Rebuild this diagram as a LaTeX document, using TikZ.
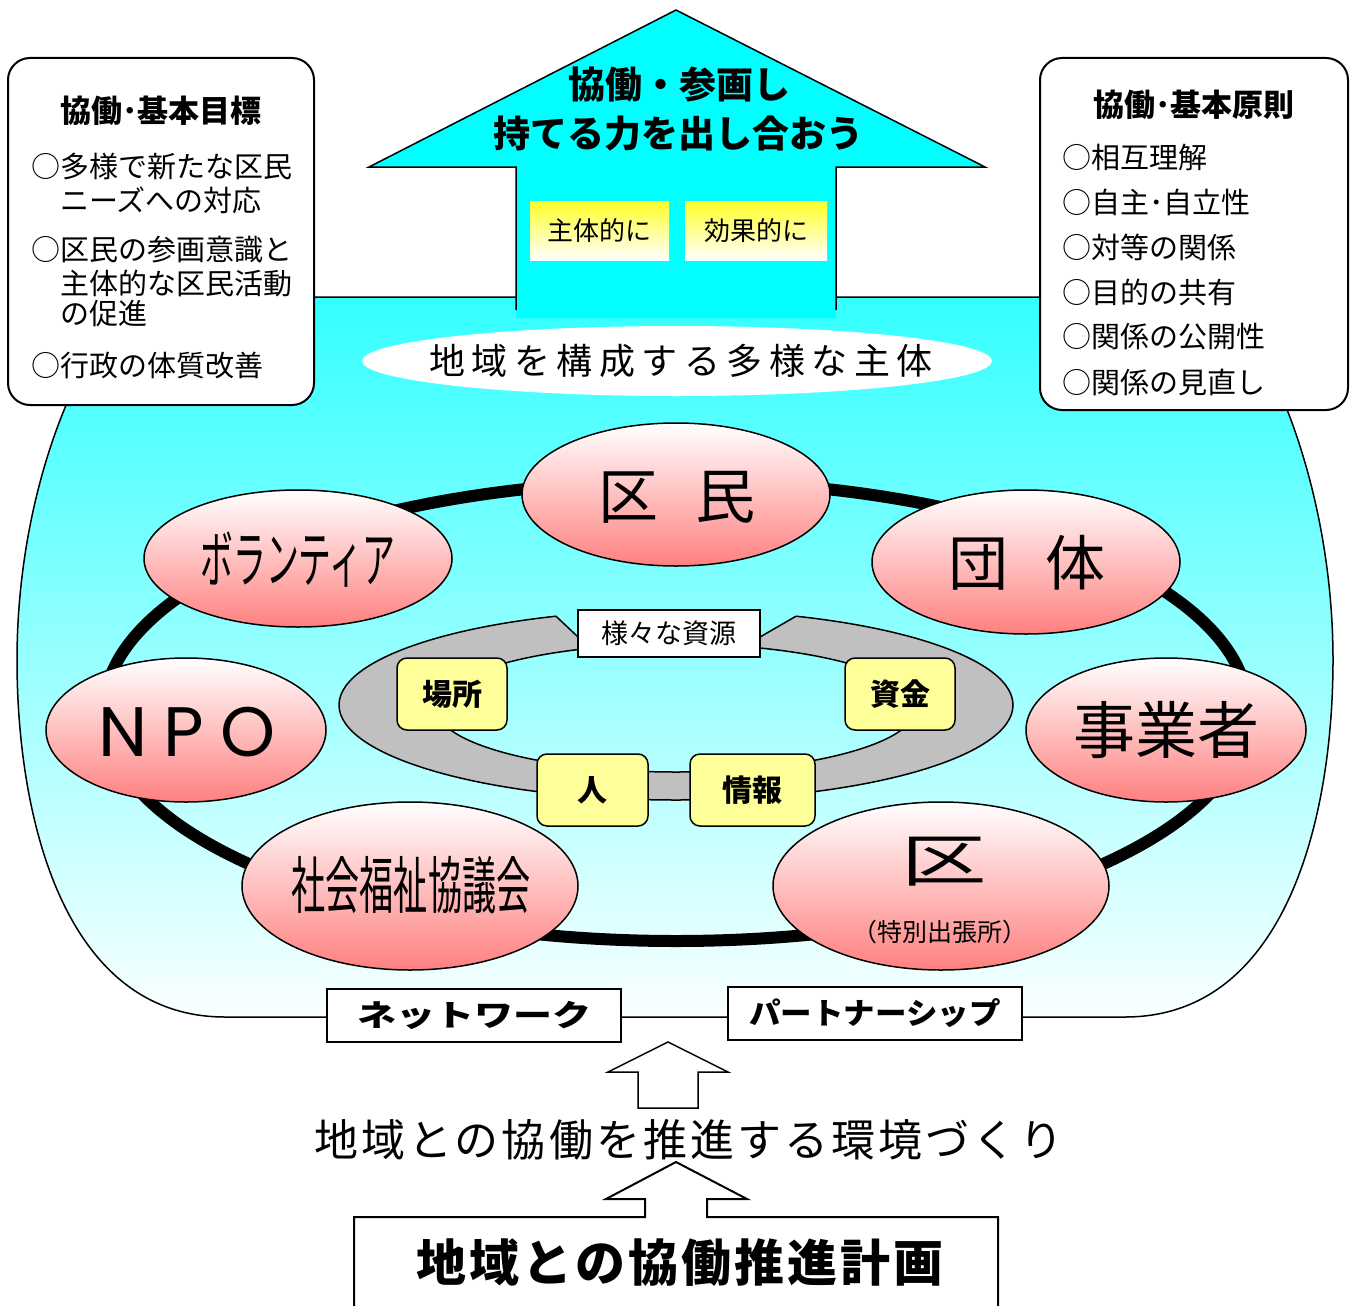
\documentclass[tikz,border=0pt]{standalone}
\usepackage{fontspec}
\usepackage{graphicx}
\setmainfont{Noto Sans CJK JP}
\newfontfamily\latinfont{Poppins}
\usetikzlibrary{shapes.geometric}

\definecolor{cyanTop}{RGB}{51,255,255}
\definecolor{cyanMid}{RGB}{172,255,255}
\definecolor{cyanBot}{RGB}{250,255,255}
\definecolor{cyanFull}{RGB}{0,255,255}
\definecolor{pinkB}{RGB}{255,128,128}
\definecolor{yelB}{RGB}{255,255,153}
\definecolor{yelTop}{RGB}{255,255,40}
\definecolor{grayR}{RGB}{192,192,192}

\newcommand{\fsz}[1]{\fontsize{#1}{#1}\selectfont}

\tikzset{
  txt/.style={inner sep=0pt},
  pinkell/.style={draw, ellipse, line width=1.5pt, top color=white, bottom color=pinkB, inner sep=0pt},
  resbox/.style={draw, rounded corners=10pt, fill=yelB, line width=1.5pt, minimum height=72pt, inner sep=0pt, font=\fsz{30}\bfseries},
  gradbox/.style={top color=yelTop, bottom color=white, minimum height=59pt, inner sep=0pt, font=\fsz{26}},
  infobox/.style={draw, rounded corners=22pt, line width=2pt, fill=white, inner sep=0pt},
  netbox/.style={draw, fill=white, line width=2pt, minimum width=294pt, minimum height=53pt, inner sep=0pt},
  outl/.style={line width=1.5pt},
}

\begin{document}
\begin{tikzpicture}[x=1pt,y=-1pt]
\useasboundingbox (0,0) rectangle (1357,1306);
\fill[white] (0,0) rectangle (1357,1306);

% big region
\draw[outl, top color=cyanTop, middle color=cyanMid, bottom color=cyanBot]
 (225,1017) -- (1125,1017) .. controls (1285,1017) and (1333,820) .. (1333,660)
 .. controls (1333,520) and (1290,380) .. (1225,297) -- (130,297)
 .. controls (60,380) and (17,520) .. (17,660)
 .. controls (17,820) and (65,1017) .. (225,1017) -- cycle;

% top arrow
\fill[cyanFull] (516,318) -- (516,167) -- (369,167) -- (676,10) -- (985,167) -- (836,167) -- (836,318) -- cycle;
\draw[outl] (516,310) -- (516,167) -- (369,167) -- (676,10) -- (985,167) -- (836,167) -- (836,310);
\node[txt] (arrowt1) at (679,85) {\fsz{37}\bfseries 協働・参画し};
\node[txt] (arrowt2) at (678,134) {\fsz{37}\bfseries 持てる力を出し合おう};
\node[gradbox, minimum width=139pt] (shutai) at (599.5,230.5) {主体的に};
\node[gradbox, minimum width=142pt] (kouka) at (756,230.5) {効果的に};

% pill
\node[ellipse, fill=white, minimum width=630pt, minimum height=70pt, inner sep=0pt] (pill) at (677,361) {};
\node[txt] (pilltext) at (681,361) {\fsz{36}\addfontfeature{LetterSpace=18}地域を構成する多様な主体};

% black ring
\draw[line width=12pt] (676,711) ellipse [x radius=572pt, y radius=230pt];

% gray C ring
\begin{scope}
\clip (0,0) -- (1357,0) -- (1357,1306) -- (0,1306) -- cycle
      (556,580) -- (556,616.2) -- (578,637) -- (578,680) -- (760,680) -- (760,637) -- (796,616.2) -- (796,580) -- cycle;
\fill[grayR, even odd rule] (676,705) ellipse [x radius=337pt, y radius=95pt]
                            (676,708) ellipse [x radius=240pt, y radius=64pt];
\draw[outl] (676,705) ellipse [x radius=337pt, y radius=95pt];
\draw[outl] (676,708) ellipse [x radius=240pt, y radius=64pt];
\end{scope}
\draw[outl] (556,616.2) -- (578,637);
\draw[outl] (796,616.2) -- (760,637);
\node[draw, fill=white, line width=1.2pt, minimum width=182pt, minimum height=47pt, inner sep=0pt, font=\fsz{27}] (shigen) at (669,633.5) {様々な資源};

% resource boxes
\node[resbox, minimum width=110pt] (basho) at (452,694) {場所};
\node[resbox, minimum width=110pt] (shikin) at (900,694) {資金};
\node[resbox, minimum width=111pt] (hito) at (592.5,790) {人};
\node[resbox, minimum width=125pt] (joho) at (752.5,790) {情報};

% pink ellipses
\node[pinkell, minimum width=308pt, minimum height=143pt] (kumin) at (676,494.5) {};
\node[txt] (kuminT) at (677,497) {\fsz{60}区\hspace{38pt}民};
\node[pinkell, minimum width=308pt, minimum height=137pt] (vol) at (298,558.5) {};
\node[txt] (volT) at (298,560) {\scalebox{0.53}[1]{\fsz{62}ボランティア}};
\node[pinkell, minimum width=308pt, minimum height=144pt] (dantai) at (1026,562) {};
\node[txt] (dantaiT) at (1027,563) {\fsz{60}団\hspace{38pt}体};
\node[pinkell, minimum width=280pt, minimum height=144pt] (npo) at (186,730) {};
\node[txt] (npoT) at (187,732) {\latinfont\fsz{70}N\hspace{16pt}P\hspace{16pt}O};
\node[pinkell, minimum width=280pt, minimum height=144pt] (jigyo) at (1166,730) {};
\node[txt] (jigyoT) at (1166,730) {\fsz{62}事業者};
\node[pinkell, minimum width=336pt, minimum height=168pt] (shakyo) at (410,886) {};
\node[txt] (shakyoT) at (411,885) {\scalebox{0.55}[1]{\fsz{62}社会福祉協議会}};
\node[pinkell, minimum width=336pt, minimum height=168pt] (ku) at (941,886) {};
\node[txt] (kuT) at (944,862) {\scalebox{1.5}[1]{\fsz{57}区}};
\node[txt] (kuSub) at (940,932) {\fsz{25}（特別出張所）};

% left info box
\node[infobox, minimum width=306pt, minimum height=347pt] (lbox) at (161,231.5) {};
\node[txt] (ltitle) at (161,111) {\fsz{31}\bfseries 協働･基本目標};
\node[txt, anchor=west] (l1) at (31,167) {\fsz{29}○多様で新たな区民};
\node[txt, anchor=west] (l2) at (60,200) {\fsz{29}ニーズへの対応};
\node[txt, anchor=west] (l3) at (31,250) {\fsz{29}○区民の参画意識と};
\node[txt, anchor=west] (l4) at (60,283) {\fsz{29}主体的な区民活動};
\node[txt, anchor=west] (l5) at (60,314) {\fsz{29}の促進};
\node[txt, anchor=west] (l6) at (31,366) {\fsz{29}○行政の体質改善};

% right info box
\node[infobox, minimum width=308pt, minimum height=352pt] (rbox) at (1194,234) {};
\node[txt] (rtitle) at (1194,105) {\fsz{31}\bfseries 協働･基本原則};
\node[txt, anchor=west] (r1) at (1062,157) {\fsz{29}○相互理解};
\node[txt, anchor=west] (r2) at (1062,202) {\fsz{29}○自主･自立性};
\node[txt, anchor=west] (r3) at (1062,247) {\fsz{29}○対等の関係};
\node[txt, anchor=west] (r4) at (1062,292) {\fsz{29}○目的の共有};
\node[txt, anchor=west] (r5) at (1062,337) {\fsz{29}○関係の公開性};
\node[txt, anchor=west] (r6) at (1062,382) {\fsz{29}○関係の見直し};

% network / partnership
\node[netbox] (net) at (474,1015.5) {\scalebox{1.3}[1]{\fsz{30}\bfseries ネットワーク}};
\node[netbox] (partner) at (875,1013.5) {\scalebox{1.05}[1]{\fsz{30}\bfseries パートナーシップ}};

% upper small arrow
\draw[outl, fill=white] (638,1108) -- (638,1072) -- (608,1072) -- (668,1042) -- (728,1072) -- (698,1072) -- (698,1108) -- cycle;
\node[txt] (env) at (689,1140) {\fsz{44}\addfontfeature{LetterSpace=7}地域との協働を推進する環境づくり};

% bottom box with arrow
\draw[line width=2pt, fill=white] (354,1312) -- (354,1217) -- (645,1217) -- (645,1199) -- (606,1199) -- (676,1162) -- (747,1199) -- (707,1199) -- (707,1217) -- (998,1217) -- (998,1312);
\node[txt] (plan) at (680,1263) {\fsz{50}\bfseries\addfontfeature{LetterSpace=6}地域との協働推進計画};
\end{tikzpicture}
\end{document}
